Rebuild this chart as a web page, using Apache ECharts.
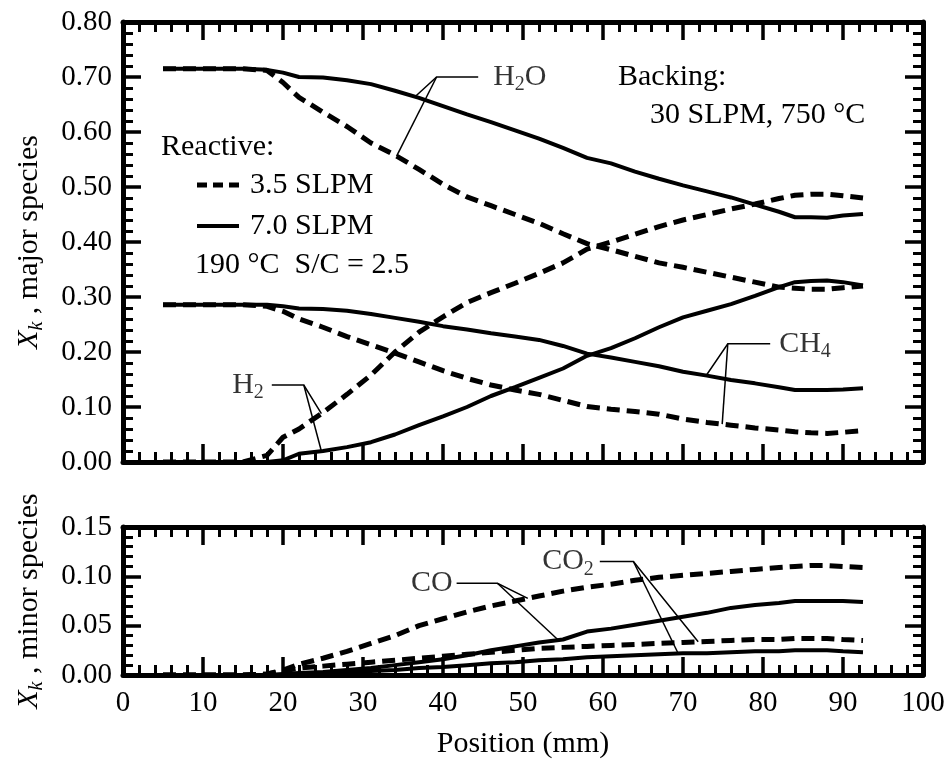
<!DOCTYPE html>
<html>
<head>
<meta charset="utf-8">
<script src="https://cdn.jsdelivr.net/npm/echarts@6/dist/echarts.min.js"></script>
<style>
  html, body { margin: 0; padding: 0; background: #fff; }
  #chart { width: 948px; height: 761px; }
</style>
</head>
<body>
<div id="chart"></div>
<script>
// position along the channel (mm)
const positions = [5, 10, 15, 18, 20, 22, 25, 28, 31, 34, 37, 40, 43, 46, 49, 52, 55, 58, 61, 64, 67, 70, 73, 76, 79, 82, 84, 86, 88, 90, 92.5];

// major species, 3.5 SLPM (dashed) and 7.0 SLPM (solid)
const h2o35 = [0.715, 0.715, 0.715, 0.712, 0.690, 0.663, 0.636, 0.610, 0.580, 0.558, 0.532, 0.505, 0.482, 0.466, 0.450, 0.434, 0.415, 0.397, 0.386, 0.374, 0.362, 0.354, 0.345, 0.336, 0.327, 0.318, 0.316, 0.314, 0.314, 0.317, 0.320];
const h2o70 = [0.715, 0.715, 0.715, 0.713, 0.708, 0.700, 0.699, 0.694, 0.687, 0.675, 0.662, 0.647, 0.632, 0.618, 0.603, 0.588, 0.571, 0.553, 0.543, 0.528, 0.515, 0.503, 0.492, 0.481, 0.468, 0.455, 0.445, 0.445, 0.444, 0.448, 0.451];
const ch435 = [0.286, 0.286, 0.286, 0.283, 0.274, 0.260, 0.245, 0.228, 0.213, 0.198, 0.182, 0.166, 0.152, 0.140, 0.131, 0.123, 0.112, 0.101, 0.096, 0.092, 0.087, 0.078, 0.072, 0.067, 0.062, 0.058, 0.055, 0.053, 0.052, 0.054, 0.057];
const ch470 = [0.286, 0.286, 0.286, 0.286, 0.283, 0.279, 0.278, 0.275, 0.269, 0.262, 0.255, 0.247, 0.241, 0.234, 0.228, 0.222, 0.211, 0.197, 0.190, 0.182, 0.174, 0.164, 0.157, 0.149, 0.143, 0.136, 0.131, 0.131, 0.131, 0.132, 0.134];
const h235 = [0, 0, 0, 0.012, 0.045, 0.060, 0.090, 0.123, 0.158, 0.200, 0.236, 0.264, 0.290, 0.308, 0.325, 0.343, 0.362, 0.387, 0.400, 0.414, 0.428, 0.440, 0.450, 0.460, 0.469, 0.479, 0.485, 0.487, 0.487, 0.484, 0.480];
const h270 = [0, 0, 0, 0, 0.003, 0.015, 0.020, 0.027, 0.036, 0.050, 0.067, 0.083, 0.100, 0.120, 0.136, 0.153, 0.170, 0.193, 0.207, 0.225, 0.245, 0.263, 0.275, 0.287, 0.302, 0.318, 0.327, 0.329, 0.330, 0.327, 0.321];

// minor species
const co35 = [0, 0, 0, 0.001, 0.005, 0.011, 0.017, 0.024, 0.032, 0.040, 0.050, 0.057, 0.064, 0.070, 0.075, 0.080, 0.085, 0.089, 0.092, 0.096, 0.099, 0.101, 0.103, 0.105, 0.107, 0.109, 0.110, 0.111, 0.111, 0.110, 0.109];
const co70 = [0, 0, 0, 0, 0.001, 0.002, 0.003, 0.005, 0.007, 0.010, 0.013, 0.016, 0.020, 0.025, 0.029, 0.033, 0.036, 0.044, 0.047, 0.051, 0.055, 0.059, 0.063, 0.068, 0.071, 0.073, 0.075, 0.075, 0.075, 0.075, 0.074];
const co235 = [0, 0, 0, 0.001, 0.004, 0.007, 0.009, 0.011, 0.013, 0.015, 0.017, 0.019, 0.021, 0.023, 0.025, 0.027, 0.028, 0.029, 0.030, 0.031, 0.032, 0.033, 0.034, 0.035, 0.036, 0.036, 0.037, 0.037, 0.037, 0.036, 0.035];
const co270 = [0, 0, 0, 0, 0, 0.001, 0.002, 0.003, 0.004, 0.005, 0.007, 0.008, 0.010, 0.012, 0.013, 0.015, 0.016, 0.018, 0.019, 0.020, 0.021, 0.022, 0.022, 0.023, 0.024, 0.024, 0.025, 0.025, 0.025, 0.024, 0.023];

const flowNames = ['3.5 SLPM', '7.0 SLPM'];

const FONT = 'Liberation Serif';
const DASH = [13, 7];
const chart = echarts.init(document.getElementById('chart'));

function valueAt(ys, x) {
  for (let i = 0; i < positions.length - 1; i++) {
    if (x >= positions[i] && x <= positions[i + 1]) {
      const t = (x - positions[i]) / (positions[i + 1] - positions[i]);
      return ys[i] + t * (ys[i + 1] - ys[i]);
    }
  }
  return ys[ys.length - 1];
}

function curve(ys, dashed, g) {
  return {
    name: dashed ? flowNames[0] : flowNames[1],
    type: 'line',
    xAxisIndex: g * 2,
    yAxisIndex: g * 2,
    data: positions.map((x, i) => [x, ys[i]]),
    symbol: 'none',
    lineStyle: { color: '#000', width: dashed ? 5 : 4, type: dashed ? DASH : 'solid' },
    itemStyle: { color: '#000' },
    silent: true,
    z: 3
  };
}

// leader lines: free end of the bar, elbow, then the curves they point at
const leaders = [
  { g: 0, text: '{t|H}{s|2}{t|O}', side: 'right', gap: 15, bar: [[44.4, 0.70], [39.2, 0.70]], tips: [[h2o70, 36.5], [h2o35, 34.2]] },
  { g: 0, text: '{t|H}{s|2}', side: 'left', gap: 8, bar: [[18.6, 0.14], [22.6, 0.14]], tips: [[h235, 24.8], [h270, 24.8]] },
  { g: 0, text: '{t|CH}{s|4}', side: 'right', gap: 9, bar: [[80.9, 0.215], [75.6, 0.215]], tips: [[ch470, 72.9], [ch435, 74.9]] },
  { g: 1, text: '{t|CO}', side: 'left', gap: 4, bar: [[41.7, 0.093], [46.8, 0.093]], tips: [[co35, 50.6], [co70, 54.4]] },
  { g: 1, text: '{t|CO}{s|2}', side: 'left', gap: 6, bar: [[59.6, 0.115], [63.8, 0.115]], tips: [[co235, 71.9], [co270, 69.4]] }
];

const rich = {
  t: { fontFamily: FONT, fontSize: 30, lineHeight: 36, color: '#000' },
  s: { fontFamily: FONT, fontSize: 20, lineHeight: 20, verticalAlign: 'bottom', color: '#000' }
};

const leaderSeries = [0, 1].map(g => ({
  type: 'lines',
  coordinateSystem: 'cartesian2d',
  xAxisIndex: g * 2,
  yAxisIndex: g * 2,
  polyline: true,
  silent: true,
  lineStyle: { color: '#000', width: 1.5, opacity: 1, curveness: 0 },
  data: leaders.filter(l => l.g === g).flatMap(l => {
    const elbow = l.bar[1];
    const ends = l.tips.map(([ys, x]) => [x, valueAt(ys, x)]);
    return [{ coords: [l.bar[0], elbow, ends[0]] }, { coords: [elbow, ends[1]] }];
  }),
  z: 4
}));

const labelSeries = [0, 1].map(g => ({
  type: 'scatter',
  xAxisIndex: g * 2,
  yAxisIndex: g * 2,
  symbolSize: 0,
  silent: true,
  data: leaders.filter(l => l.g === g).map(l => ({
    value: l.bar[0],
    label: {
      show: true,
      position: l.side,
      distance: l.gap,
      formatter: l.text,
      rich: rich
    }
  })),
  z: 5
}));

function xAxis(g, pos, labels) {
  return {
    type: 'value', gridIndex: g, position: pos,
    min: 0, max: 100, interval: 10,
    axisLine: { show: true, onZero: false, lineStyle: { color: '#000', width: 5 } },
    axisTick: { show: true, inside: true, length: 18, lineStyle: { color: '#000', width: 3.5 } },
    minorTick: { show: true, splitNumber: 5, length: 10, lineStyle: { color: '#000', width: 3 } },
    splitLine: { show: false },
    axisLabel: { show: labels, color: '#000', fontFamily: FONT, fontSize: 29, margin: 14 },
    name: labels ? 'Position (mm)' : '',
    nameLocation: 'middle',
    nameGap: 54,
    nameTextStyle: { color: '#000', fontFamily: FONT, fontSize: 30 }
  };
}

function yAxis(g, pos, max, step, title) {
  return {
    type: 'value', gridIndex: g, position: pos,
    min: 0, max: max, interval: step,
    axisLine: { show: true, onZero: false, lineStyle: { color: '#000', width: 5 } },
    axisTick: { show: true, inside: true, length: 18, lineStyle: { color: '#000', width: 3.5 } },
    minorTick: { show: true, splitNumber: 5, length: 10, lineStyle: { color: '#000', width: 3 } },
    splitLine: { show: false },
    axisLabel: { show: !!title, color: '#000', fontFamily: FONT, fontSize: 29, margin: 11, formatter: v => v.toFixed(2) },
    name: title ? '{x|X}{k|k}{n| , ' + title + '}' : '',
    nameLocation: 'middle',
    nameGap: 76,
    nameTextStyle: {
      rich: {
        x: { fontFamily: FONT, fontStyle: 'italic', fontSize: 30, lineHeight: 36, color: '#000' },
        k: { fontFamily: FONT, fontStyle: 'italic', fontSize: 20, lineHeight: 20, verticalAlign: 'bottom', color: '#000' },
        n: { fontFamily: FONT, fontSize: 30, lineHeight: 36, color: '#000' }
      }
    }
  };
}

const textStyle = { fontFamily: FONT, fontSize: 30, fill: '#000', verticalAlign: 'middle' };

// legend block for the reactive flow rates, drawn as plain graphics
const legendRows = flowNames.map((name, i) => {
  const y = 185 + i * 41;
  return [
    { type: 'line', shape: { x1: 197, y1: y, x2: 239, y2: y },
      style: { stroke: '#000', lineWidth: i === 0 ? 5 : 4, lineDash: i === 0 ? [10, 6] : null } },
    { type: 'text', x: 250, y: y, style: Object.assign({ text: name }, textStyle) }
  ];
}).flat();

const option = {
  animation: false,
  backgroundColor: '#fff',
  grid: [
    { left: 123, top: 22, width: 800, height: 440, outerBoundsMode: 'none' },
    { left: 123, top: 527, width: 800, height: 148, outerBoundsMode: 'none' }
  ],
  xAxis: [xAxis(0, 'bottom', false), xAxis(0, 'top', false), xAxis(1, 'bottom', true), xAxis(1, 'top', false)],
  yAxis: [
    yAxis(0, 'left', 0.8, 0.1, 'major species'), yAxis(0, 'right', 0.8, 0.1, null),
    yAxis(1, 'left', 0.15, 0.05, 'minor species'), yAxis(1, 'right', 0.15, 0.05, null)
  ],
  graphic: [
    { type: 'text', x: 161, y: 147, style: Object.assign({ text: 'Reactive:' }, textStyle) },
    { type: 'text', x: 195, y: 265, style: Object.assign({ text: '190 °C  S/C = 2.5' }, textStyle) },
    { type: 'text', x: 618, y: 77, style: Object.assign({ text: 'Backing:' }, textStyle) },
    { type: 'text', x: 650, y: 115, style: Object.assign({ text: '30 SLPM, 750 °C' }, textStyle) }
  ].concat(legendRows),
  series: [
    curve(h2o35, true, 0), curve(h2o70, false, 0),
    curve(ch435, true, 0), curve(ch470, false, 0),
    curve(h235, true, 0), curve(h270, false, 0),
    curve(co35, true, 1), curve(co70, false, 1),
    curve(co235, true, 1), curve(co270, false, 1)
  ].concat(leaderSeries, labelSeries)
};

chart.setOption(option);
</script>
</body>
</html>
